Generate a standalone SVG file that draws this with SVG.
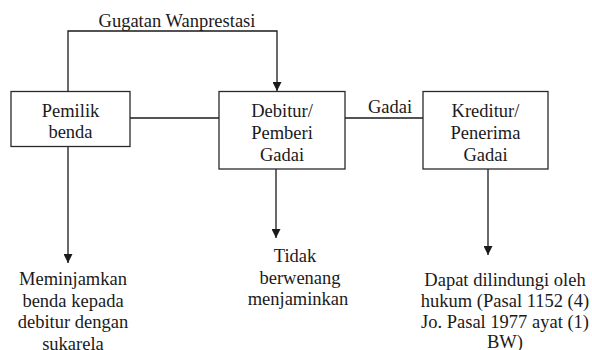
<svg xmlns="http://www.w3.org/2000/svg" width="592" height="350" viewBox="0 0 592 350">
<style>
text{font-family:"Liberation Serif","DejaVu Serif",serif;font-size:18.5px;fill:#1a1a1a;text-anchor:middle}
.box{fill:#fff;stroke:#2a2a2a;stroke-width:1.3}
.ln{fill:none;stroke:#1a1a1a;stroke-width:1.3}
</style>
<defs>
<marker id="ah" viewBox="0 0 10 10" refX="10" refY="5" markerWidth="9" markerHeight="9" markerUnits="userSpaceOnUse" orient="auto">
<path d="M0,0 L10,5 L0,10 Z" fill="#1a1a1a"/>
</marker>
</defs>
<rect width="592" height="350" fill="#fff"/>
<g id="connectors">
<path class="ln" d="M68,91 V31 H277 V91" marker-end="url(#ah)"/>
<line class="ln" x1="130" y1="118" x2="219" y2="118"/>
<line class="ln" x1="345" y1="118" x2="423" y2="118"/>
<line class="ln" x1="68" y1="147" x2="68" y2="263" marker-end="url(#ah)"/>
<line class="ln" x1="276" y1="169" x2="276" y2="238" marker-end="url(#ah)"/>
<line class="ln" x1="488" y1="169" x2="488" y2="255" marker-end="url(#ah)"/>
<text x="177" y="27">Gugatan Wanprestasi</text>
<text x="390" y="113">Gadai</text>
</g>
<g id="pemilik">
<rect class="box" x="11" y="91.5" width="119" height="55"/>
<text x="70.5" y="117">Pemilik</text>
<text x="70.5" y="138">benda</text>
</g>
<g id="debitur">
<rect class="box" x="219" y="91.5" width="126" height="77.5"/>
<text x="282" y="117">Debitur/</text>
<text x="282" y="139">Pemberi</text>
<text x="282" y="161">Gadai</text>
</g>
<g id="kreditur">
<rect class="box" x="423" y="91.5" width="125" height="77.5"/>
<text x="485.5" y="117">Kreditur/</text>
<text x="485.5" y="139">Penerima</text>
<text x="485.5" y="161">Gadai</text>
</g>
<g id="meminjamkan">
<text x="73" y="285">Meminjamkan</text>
<text x="73" y="307">benda kepada</text>
<text x="73" y="328">debitur dengan</text>
<text x="73" y="350">sukarela</text>
</g>
<g id="tidak">
<text x="295" y="262">Tidak</text>
<text x="300" y="284">berwenang</text>
<text x="298" y="305">menjaminkan</text>
</g>
<g id="dapat">
<text x="505" y="286">Dapat dilindungi oleh</text>
<text x="505" y="307">hukum (Pasal 1152 (4)</text>
<text x="505" y="328">Jo. Pasal 1977 ayat (1)</text>
<text x="505" y="347.5">BW)</text>
</g>
</svg>
